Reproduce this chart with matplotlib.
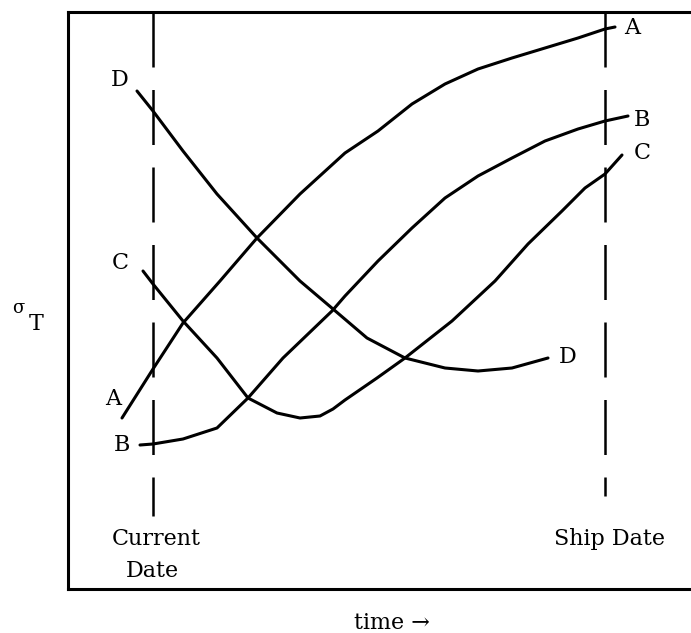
import matplotlib
matplotlib.use("Agg")
import matplotlib.pyplot as plt

# curves: time (arbitrary units) vs sigma_T (arbitrary units)
a_time = [54, 85, 115, 152, 189, 232, 277, 310, 344, 377, 410, 444, 477, 510, 537, 547]
a_sigma = [171, 220, 266, 308, 351, 395, 436, 458, 485, 505, 520, 531, 541, 551, 560, 562]

b_time = [72, 85, 115, 149, 180, 215, 264, 277, 310, 344, 377, 410, 444, 477, 510, 537, 560]
b_sigma = [144, 145, 150, 161, 191, 231, 278, 293, 328, 361, 391, 413, 431, 448, 460, 468, 473]

c_time = [75, 85, 115, 149, 180, 209, 232, 252, 265, 277, 309, 337, 384, 427, 460, 494, 517, 537, 554]
c_sigma = [318, 305, 268, 231, 191, 176, 171, 173, 180, 189, 211, 231, 268, 308, 345, 378, 401, 415, 434]

d_time = [69, 85, 115, 149, 189, 232, 265, 299, 337, 377, 410, 444, 480]
d_sigma = [498, 478, 438, 395, 351, 308, 280, 251, 231, 221, 218, 221, 231]

current_date = 85
ship_date = 537

# curve end labels (left and right)
labels = ["A", "B", "C", "D"]
left_lab_time = [45, 54, 52, 52]
left_lab_sigma = [190, 144, 326, 509]
right_lab_time = [564, 574, 574, 500]
right_lab_sigma = [561, 469, 436, 232]

plt.rcParams["font.family"] = ["DejaVu Serif"]

fig = plt.figure(figsize=(6.91, 6.33), dpi=100)
ax = fig.add_axes([68 / 691, 44 / 633, 623 / 691, 577 / 633])
ax.set_xlim(0, 623)
ax.set_ylim(0, 577)
ax.set_xticks([])
ax.set_yticks([])
for s in ["left", "top", "bottom"]:
    ax.spines[s].set_linewidth(2.2)
ax.spines["right"].set_visible(False)

lw = 2.2
for t, s in [(a_time, a_sigma), (b_time, b_sigma), (c_time, c_sigma), (d_time, d_sigma)]:
    ax.plot(t, s, color="black", lw=lw, solid_capstyle="round", solid_joinstyle="round")

# vertical dashed date markers
ax.plot([current_date, current_date], [577, 73], color="black", lw=1.8,
        dashes=(22, 9), dash_capstyle="butt")
ax.plot([ship_date, ship_date], [577, 93], color="black", lw=1.8,
        dashes=(22, 9), dash_capstyle="butt")

fs = 16
for i, lab in enumerate(labels):
    ax.text(left_lab_time[i], left_lab_sigma[i], lab, fontsize=fs, ha="center", va="center")
    ax.text(right_lab_time[i], right_lab_sigma[i], lab, fontsize=fs, ha="center", va="center")

ax.text(88, 50, "Current", fontsize=fs, ha="center", va="center")
ax.text(84, 18, "Date", fontsize=fs, ha="center", va="center")
ax.text(542, 50, "Ship Date", fontsize=fs, ha="center", va="center")

ax.text(324, -34, "time \u2192", fontsize=fs, ha="center", va="center", clip_on=False)
ax.text(-50, 281, "\u03c3", fontsize=13, ha="center", va="center", clip_on=False)
ax.text(-32, 265, "T", fontsize=fs, ha="center", va="center", clip_on=False)

fig.savefig("out.png", dpi=100)
